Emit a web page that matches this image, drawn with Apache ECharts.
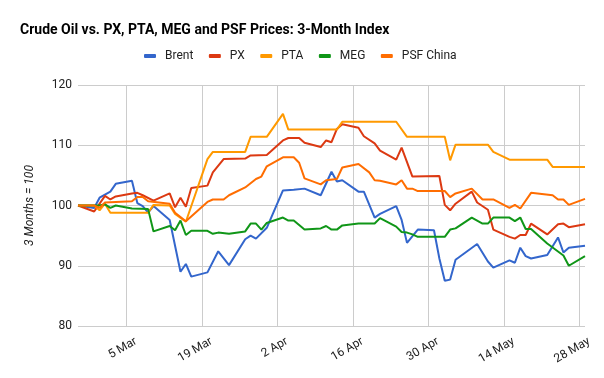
<!DOCTYPE html>
<html>
<head>
<meta charset="utf-8">
<script src="https://cdn.jsdelivr.net/npm/echarts@6/dist/echarts.min.js"></script>
<style>
html,body{margin:0;padding:0;background:#fff;}
#chart{width:604px;height:378px;}
</style>
</head>
<body>
<div id="chart"></div>
<script>
const YEAR = 2017;
const seriesNames = ['Brent', 'PX', 'PTA', 'MEG', 'PSF China'];
const seriesColors = ['#3366CC', '#DC3912', '#FF9900', '#109618', '#FF6D01'];

const tickDates = ['03-05', '03-19', '04-02', '04-16', '04-30', '05-14', '05-28'];
const tickLabels = ['5 Mar', '19 Mar', '2 Apr', '16 Apr', '30 Apr', '14 May', '28 May'];
const yTicks = [80, 90, 100, 110, 120];

const brent = [
  ['02-24',100],['02-27',99.6],['02-28',101.3],['03-01',101.8],['03-02',102.3],['03-03',103.6],
  ['03-06',104.1],['03-07',100.4],['03-08',99.9],['03-09',98.8],['03-10',99.9],['03-13',97.6],
  ['03-15',89.0],['03-16',90.3],['03-17',88.2],['03-20',88.9],['03-22',92.4],['03-24',90.1],
  ['03-27',94.4],['03-28',95.0],['03-29',94.5],['03-31',96.3],['04-03',102.5],['04-05',102.6],
  ['04-07',102.8],['04-10',101.7],['04-12',105.6],['04-13',104.0],['04-14',104.2],['04-17',102.3],
  ['04-18',102.3],['04-20',98.0],['04-21',98.6],['04-24',99.9],['04-25',97.6],['04-26',93.8],
  ['04-28',96.0],['05-01',95.9],['05-02',91.2],['05-03',87.5],['05-04',87.7],['05-05',91.0],
  ['05-09',93.6],['05-11',90.7],['05-12',89.7],['05-15',90.9],['05-16',90.5],['05-17',93.0],
  ['05-18',91.6],['05-19',91.2],['05-22',91.8],['05-24',94.7],['05-25',92.2],['05-26',93.0],
  ['05-29',93.3]
];
const px = [
  ['02-24',100],['02-27',99.0],['03-01',101.6],['03-02',101.0],['03-03',101.5],['03-06',102.0],
  ['03-07',102.1],['03-08',101.7],['03-10',100.8],['03-13',102.0],['03-14',99.7],['03-15',101.3],
  ['03-16',99.8],['03-17',102.9],['03-20',103.3],['03-21',105.5],['03-23',107.7],['03-27',107.8],
  ['03-28',108.3],['03-31',108.4],['04-03',110.8],['04-04',111.2],['04-06',111.2],['04-07',110.4],
  ['04-10',109.7],['04-11',110.8],['04-12',110.5],['04-13',112.7],['04-14',113.5],['04-17',112.9],
  ['04-18',111.5],['04-20',110.3],['04-21',109.1],['04-24',107.6],['04-25',109.6],['04-27',104.8],
  ['05-02',104.9],['05-03',100.1],['05-04',99.2],['05-05',100.3],['05-08',102.3],['05-09',100.5],
  ['05-11',99.3],['05-12',96.0],['05-15',94.8],['05-16',94.5],['05-17',95.1],['05-18',95.1],
  ['05-19',97.0],['05-22',95.2],['05-24',96.9],['05-25',97.0],['05-26',96.4],['05-29',96.9]
];
const pta = [
  ['02-24',100],['02-27',100],['02-28',99.2],['03-01',100.3],['03-02',98.8],['03-09',98.8],
  ['03-10',100.1],['03-13',100.0],['03-14',98.6],['03-16',97.3],['03-20',107.7],['03-21',108.9],
  ['03-27',108.9],['03-28',111.4],['03-31',111.4],['04-03',115.2],['04-04',112.6],['04-13',112.6],
  ['04-14',113.9],['04-24',113.9],['04-26',111.4],['05-03',111.4],['05-04',107.5],['05-05',110.1],
  ['05-11',110.1],['05-12',108.9],['05-15',107.6],['05-22',107.6],['05-23',106.4],['05-29',106.4]
];
const meg = [
  ['02-24',100],['02-28',100.0],['03-01',100.2],['03-02',99.6],['03-03',100.0],['03-06',99.5],
  ['03-09',99.4],['03-10',95.7],['03-13',96.6],['03-14',95.9],['03-15',97.5],['03-16',95.1],
  ['03-17',95.8],['03-20',95.8],['03-21',95.3],['03-22',95.5],['03-24',95.3],['03-27',95.7],
  ['03-28',97.0],['03-29',97.0],['03-30',96.0],['03-31',97.1],['04-03',98.0],['04-04',97.5],
  ['04-05',97.5],['04-07',96.0],['04-10',96.2],['04-11',96.6],['04-12',96.0],['04-13',96.0],
  ['04-14',96.7],['04-17',97.0],['04-20',97.0],['04-21',97.9],['04-24',96.5],['04-25',95.6],
  ['04-26',95.5],['04-27',95.2],['04-28',94.8],['05-03',94.8],['05-04',96.0],['05-05',96.2],
  ['05-08',98.0],['05-10',97.0],['05-11',97.0],['05-12',98.0],['05-15',98.0],['05-16',97.4],
  ['05-17',98.0],['05-18',96.1],['05-19',96.1],['05-22',93.7],['05-25',91.7],['05-26',90.0],
  ['05-29',91.6]
];
const psf = [
  ['02-24',100],['02-27',100.0],['02-28',99.6],['03-01',100.5],['03-06',100.7],['03-07',101.4],
  ['03-08',101.4],['03-09',100.7],['03-13',100.3],['03-14',98.8],['03-16',97.4],['03-20',100.6],
  ['03-21',101.0],['03-23',101.0],['03-24',101.7],['03-27',103.0],['03-29',104.4],['03-30',104.8],
  ['03-31',106.5],['04-03',108.0],['04-05',108.0],['04-06',107.1],['04-07',104.5],['04-10',103.5],
  ['04-11',104.2],['04-13',104.4],['04-14',106.3],['04-17',106.9],['04-19',105.5],['04-20',104.2],
  ['04-21',104.1],['04-24',103.5],['04-25',104.2],['04-26',102.8],['04-27',102.8],['04-28',102.4],
  ['05-03',102.4],['05-04',101.4],['05-05',102.0],['05-08',102.8],['05-10',101.0],['05-12',101.0],
  ['05-15',99.6],['05-16',100.1],['05-17',99.5],['05-19',102.1],['05-23',101.7],['05-24',101.0],
  ['05-25',101.0],['05-26',100.1],['05-29',101.1]
];
const allSeries = [brent, px, pta, meg, psf];

// day number counted from 1 Jan of YEAR (UTC, so no daylight-saving drift)
function dayNum(md) {
  const p = md.split('-').map(Number);
  return Math.round((Date.UTC(YEAR, p[0] - 1, p[1]) - Date.UTC(YEAR, 0, 1)) / 86400000);
}
const tickDays = tickDates.map(dayNum);
const FONT = 'Roboto, "Noto Sans", Arial, sans-serif';

const chart = echarts.init(document.getElementById('chart'), null, {renderer: 'canvas'});
chart.setOption({
  animation: false,
  backgroundColor: '#ffffff',
  title: {
    text: 'Crude Oil vs. PX, PTA, MEG and PSF Prices: 3-Month Index',
    left: 20, top: 23, padding: 0,
    textStyle: {fontFamily: FONT, fontSize: 14, fontWeight: 'bold', color: '#000'}
  },
  legend: {
    top: 50, left: 144, padding: 0,
    itemWidth: 12, itemHeight: 4, itemGap: 15.5,
    icon: 'roundRect',
    data: seriesNames,
    textStyle: {fontFamily: FONT, fontSize: 12, color: '#222', padding: [0, 0, 0, 4]}
  },
  grid: {left: 78, right: 19, top: 85, bottom: 52},
  xAxis: {
    type: 'value',
    min: dayNum(brent[0][0]),
    max: dayNum(brent[brent.length - 1][0]),
    axisLine: {show: false},
    axisTick: {show: false, customValues: tickDays},
    splitLine: {show: true, lineStyle: {color: '#cccccc', width: 1}},
    axisLabel: {
      customValues: tickDays,
      rotate: 30,
      margin: 20,
      padding: [0, -11, 0, 0],
      fontFamily: FONT, fontSize: 12, color: '#222',
      formatter: function (v) {
        const i = tickDays.indexOf(Math.round(v));
        return i >= 0 ? tickLabels[i] : '';
      }
    }
  },
  yAxis: {
    type: 'value',
    min: yTicks[0], max: yTicks[yTicks.length - 1], interval: 10,
    name: '3 Months = 100',
    nameLocation: 'middle',
    nameGap: 42,
    nameTextStyle: {fontFamily: FONT, fontSize: 12, fontStyle: 'italic', color: '#222'},
    axisLine: {show: false},
    axisTick: {show: false},
    splitLine: {lineStyle: {color: '#cccccc', width: 1}},
    axisLabel: {margin: 6, fontFamily: FONT, fontSize: 12, color: '#222'}
  },
  series: seriesNames.map(function (name, i) {
    return {
      name: name,
      type: 'line',
      showSymbol: false,
      symbol: 'none',
      color: seriesColors[i],
      lineStyle: {width: 2, color: seriesColors[i]},
      data: allSeries[i].map(function (d) { return [dayNum(d[0]), d[1]]; })
    };
  })
});
</script>
</body>
</html>
